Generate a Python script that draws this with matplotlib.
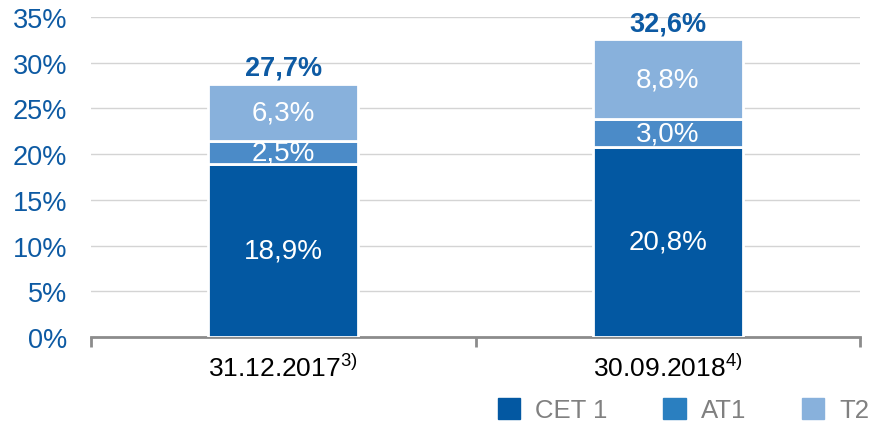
import matplotlib.pyplot as plt
import numpy as np
from matplotlib.patches import Patch

plt.rcParams['font.family'] = ['Liberation Sans', 'DejaVu Sans']
plt.rcParams['mathtext.fontset'] = 'custom'
plt.rcParams['mathtext.rm'] = 'Liberation Sans'
plt.rcParams['mathtext.default'] = 'regular'

# chart data
dates = ['31.12.2017', '30.09.2018']
footnotes = ['3)', '4)']
cet1 = [18.9, 20.8]
at1 = [2.5, 3.0]
t2 = [6.3, 8.8]
totals = [27.7, 32.6]
series_names = ['CET 1', 'AT1', 'T2']

c_cet1 = '#0358a2'
c_at1 = '#4b8bc8'
c_at1_legend = '#2a7fc0'
c_t2 = '#88b1dc'
c_blue_text = '#0d5aa3'

fig = plt.figure(figsize=(8.72, 4.27), dpi=100)
ax = fig.add_axes([0.1044, 0.2084, 0.8818, 0.7494])

x = np.arange(len(dates))
w = 0.39
bottoms = np.zeros(len(dates))
for vals, col in [(cet1, c_cet1), (at1, c_at1), (t2, c_t2)]:
    bars = ax.bar(x, vals, w, bottom=bottoms, color=col, edgecolor='white',
                  linewidth=2, zorder=3)
    for b, v, y0 in zip(bars, vals, bottoms):
        ax.text(b.get_x() + b.get_width() / 2, y0 + v / 2,
                ('%.1f%%' % v).replace('.', ','), ha='center', va='center',
                color='white', fontsize=20, zorder=4)
    bottoms = bottoms + np.array(vals)

for xi, tot in zip(x, totals):
    ax.annotate(('%.1f%%' % tot).replace('.', ','), (xi, tot),
                xytext=(0, 2), textcoords='offset points', ha='center',
                va='bottom', fontsize=19.5, fontweight='bold', color=c_blue_text)

ax.set_ylim(0, 35)
ax.set_xlim(-0.5, 1.5)
ax.set_yticks(np.arange(0, 36, 5))
ax.set_yticklabels(['%d%%' % v for v in range(0, 36, 5)])
ax.tick_params(axis='y', length=0, pad=17, labelsize=19.5, labelcolor=c_blue_text)
ax.yaxis.grid(True, color='#d4d4d4', linewidth=1)
ax.set_axisbelow(True)

ax.set_xticks(x)
ax.set_xticklabels([d + '$^{' + f + '}$' for d, f in zip(dates, footnotes)])
ax.tick_params(axis='x', length=0, pad=12, labelsize=19, labelcolor='black')
ax.set_xticks([-0.5, 0.5, 1.5], minor=True)
ax.tick_params(axis='x', which='minor', length=7, width=2, color='#8c8c8c',
               direction='out')

for s in ['left', 'right', 'top']:
    ax.spines[s].set_visible(False)
ax.spines['bottom'].set_color('#8c8c8c')
ax.spines['bottom'].set_linewidth(2)

handles = [Patch(color=c) for c in [c_cet1, c_at1_legend, c_t2]]
fig.legend(handles, series_names, loc='center right', bbox_to_anchor=(0.997, 0.037),
           ncol=3, frameon=False, fontsize=18.5, labelcolor='#808080',
           handlelength=0.86, handleheight=0.86, handletextpad=0.58,
           columnspacing=2.2, borderaxespad=0, borderpad=0)

fig.savefig('out.png', dpi=100)
